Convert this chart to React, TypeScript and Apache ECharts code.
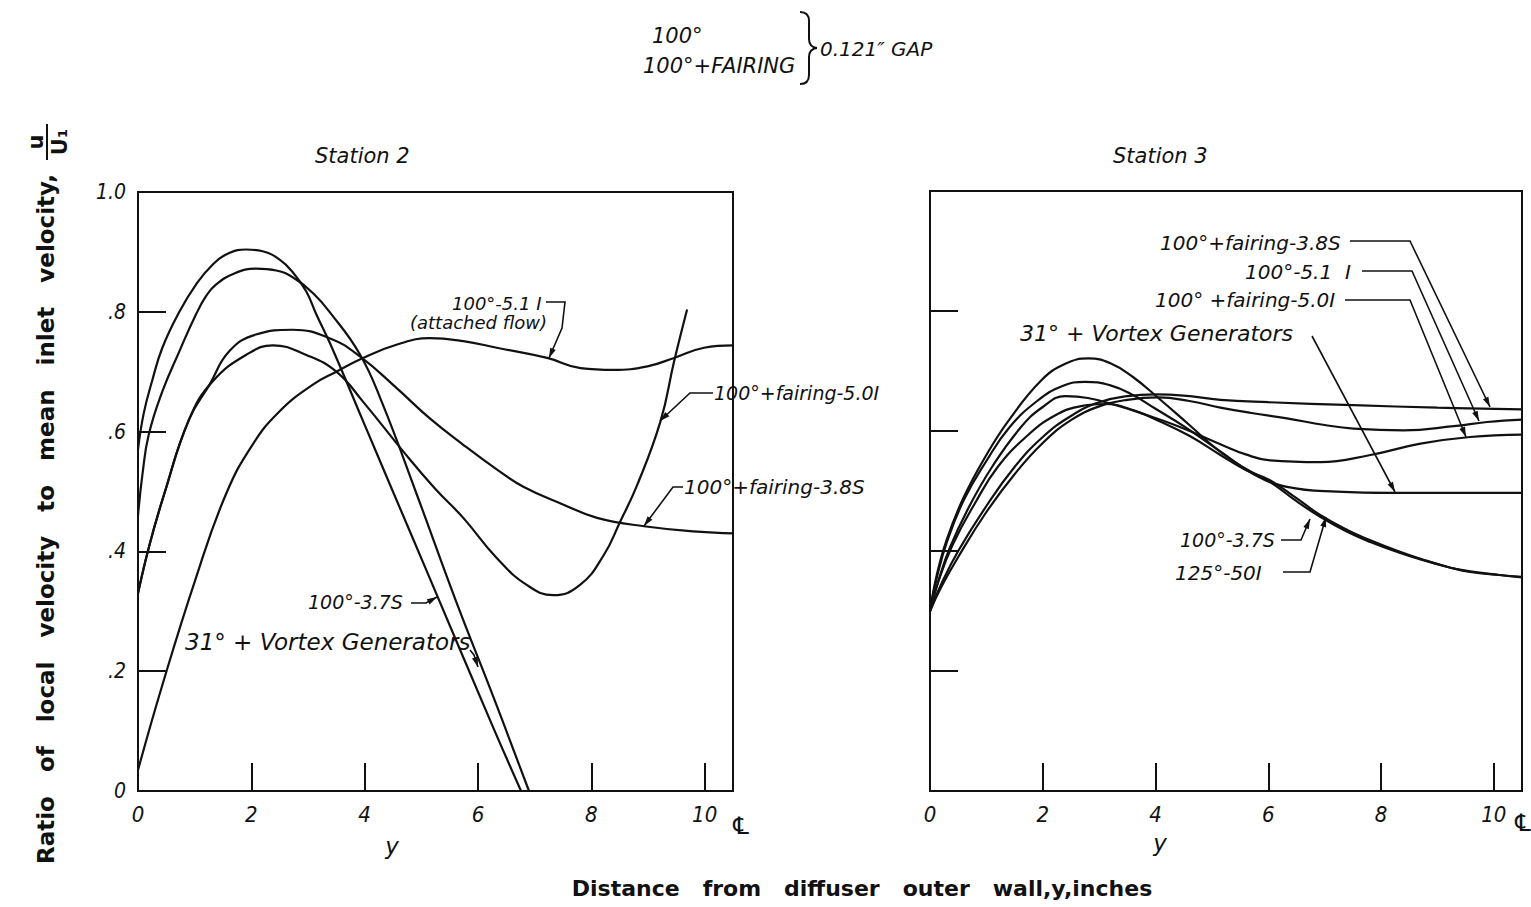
import React, { useEffect, useRef } from 'react';
import * as echarts from 'echarts';

// ---------- Tick values ----------
const X_MIN = 0;
const X_MAX = 10.5;
const X_STEP = 2;
const Y_MIN = 0;
const Y_MAX = 1.0;
const Y_STEP = 0.2;

// ---------- Station 2 series (y inches, u/U1) ----------
const s2_100_37S: number[][] = [[0,0.57],[0.1,0.63],[0.25,0.685],[0.43,0.74],[0.73,0.8],[1.02,0.845],[1.32,0.879],[1.61,0.898],[1.91,0.904],[2.2,0.901],[2.5,0.887],[2.73,0.866],[2.97,0.834],[3.15,0.795],[3.4,0.745],[3.97,0.618],[4.44,0.513],[5.15,0.355],[6.25,0.11],[6.76,0]];
const s2_31VG: number[][] = [[0,0.46],[0.08,0.53],[0.19,0.595],[0.43,0.667],[0.73,0.734],[1.02,0.795],[1.2,0.826],[1.37,0.845],[1.7,0.864],[2.08,0.872],[2.44,0.869],[2.79,0.854],[3.1,0.83],[3.38,0.8],[3.91,0.73],[4.3,0.65],[4.92,0.495],[5.6,0.32],[6.3,0.15],[6.9,0]];
const s2_fair50I: number[][] = [[0,0.33],[0.2,0.41],[0.46,0.495],[0.9,0.62],[1.32,0.684],[1.96,0.731],[2.38,0.744],[2.97,0.728],[3.5,0.7],[3.97,0.65],[4.68,0.567],[5.24,0.505],[5.74,0.456],[6.33,0.389],[6.86,0.344],[7.33,0.327],[7.8,0.344],[8.22,0.394],[8.51,0.45],[8.81,0.511],[9.22,0.617],[9.46,0.717],[9.69,0.804]];
const s2_fair38S: number[][] = [[0,0.33],[0.2,0.41],[0.46,0.495],[0.9,0.62],[1.26,0.678],[1.61,0.734],[2.08,0.762],[2.73,0.77],[3.38,0.756],[3.91,0.726],[4.56,0.673],[5.15,0.622],[5.74,0.578],[6.33,0.537],[6.8,0.508],[7.51,0.478],[8.1,0.456],[8.93,0.442],[9.87,0.433],[10.5,0.43]];
const s2_100_51I: number[][] = [[0,0.035],[0.43,0.177],[1.02,0.355],[1.55,0.495],[2.02,0.578],[2.5,0.634],[3.08,0.678],[3.5,0.7],[3.97,0.723],[4.56,0.745],[5.15,0.756],[5.74,0.751],[6.33,0.74],[7.22,0.723],[7.81,0.706],[8.39,0.703],[8.99,0.709],[9.46,0.723],[9.99,0.74],[10.5,0.744]];

// ---------- Station 3 series ----------
const s3_100_37S: number[][] = [[0,0.3],[0.12,0.36],[0.3,0.42],[0.6,0.49],[1.0,0.56],[1.4,0.618],[1.98,0.685],[2.4,0.712],[2.81,0.721],[3.2,0.713],[3.6,0.69],[4.05,0.655],[4.6,0.61],[5.15,0.565],[5.6,0.537],[6.03,0.515],[6.5,0.483],[6.92,0.457],[7.4,0.432],[7.81,0.415],[8.3,0.398],[8.7,0.386],[9.2,0.373],[9.58,0.365],[10.1,0.36],[10.5,0.357]];
const s3_125_50I: number[][] = [[0,0.3],[0.15,0.35],[0.4,0.41],[0.8,0.48],[1.2,0.54],[1.7,0.59],[2.2,0.625],[2.7,0.642],[3.1,0.645],[3.6,0.635],[4.1,0.615],[4.6,0.592],[5.15,0.56],[5.6,0.535],[6.03,0.518],[6.5,0.488],[6.92,0.46],[7.4,0.435],[7.81,0.418],[8.3,0.4],[8.7,0.387],[9.2,0.373],[9.58,0.366],[10.1,0.36],[10.5,0.356]];
const s3_31VG: number[][] = [[0,0.3],[0.12,0.355],[0.3,0.415],[0.6,0.485],[1.0,0.55],[1.4,0.605],[1.9,0.65],[2.35,0.675],[2.75,0.682],[3.2,0.676],[3.6,0.66],[4.0,0.637],[4.5,0.608],[5.15,0.566],[5.74,0.528],[6.33,0.507],[7.22,0.499],[8.2,0.497],[10.5,0.497]];
const s3_fair50I: number[][] = [[0,0.3],[0.15,0.35],[0.35,0.405],[0.7,0.475],[1.1,0.54],[1.6,0.605],[2.0,0.64],[2.4,0.658],[2.8,0.655],[3.3,0.643],[3.8,0.628],[4.4,0.608],[5.15,0.578],[5.6,0.561],[6.03,0.551],[6.92,0.548],[7.81,0.56],[8.7,0.579],[9.58,0.59],[10.5,0.594]];
const s3_fair38S: number[][] = [[0,0.3],[0.2,0.345],[0.5,0.4],[1.0,0.475],[1.5,0.54],[2.0,0.59],[2.5,0.625],[3.0,0.648],[3.5,0.658],[4.0,0.661],[4.5,0.659],[5.15,0.652],[6.0,0.648],[7.51,0.643],[9.0,0.639],[10.5,0.636]];
const s3_100_51I: number[][] = [[0,0.3],[0.2,0.34],[0.5,0.39],[1.0,0.465],[1.5,0.528],[2.0,0.58],[2.5,0.618],[3.0,0.641],[3.5,0.652],[4.05,0.656],[4.6,0.65],[5.15,0.639],[5.7,0.63],[6.33,0.621],[7.0,0.61],[7.51,0.604],[8.4,0.601],[9.29,0.608],[9.88,0.615],[10.5,0.619]];

const INK = '#111';
const HAND = '"DejaVu Sans", sans-serif';
const TICKF = '"DejaVu Sans Condensed", "DejaVu Sans", sans-serif';
const BOLD = '"DejaVu Sans", sans-serif';

echarts.graphic.registerShape(
  'brace',
  echarts.graphic.extendPath('M0 0 Q9 0 9 9 L9 27 Q9 35 17 36 Q9 37 9 45 L9 63 Q9 72 0 72', {})
);

function txt(text: string, x: number, y: number, size: number, extra: any = {}) {
  return {
    type: 'text',
    x,
    y,
    silent: true,
    style: {
      text,
      fill: INK,
      fontStyle: extra.italic === false ? 'normal' : 'italic',
      fontWeight: extra.weight || 'normal',
      fontSize: size,
      fontFamily: extra.family || HAND,
      textAlign: extra.align || 'left',
      textVerticalAlign: 'middle',
    },
    rotation: extra.rotation || 0,
  };
}

function leader(pts: number[][]) {
  const n = pts.length;
  const [x1, y1] = pts[n - 2];
  const [x2, y2] = pts[n - 1];
  const ang = Math.atan2(y2 - y1, x2 - x1);
  const L = 10;
  const W = 3;
  const bx = x2 - L * Math.cos(ang);
  const by = y2 - L * Math.sin(ang);
  const px = -Math.sin(ang) * W;
  const py = Math.cos(ang) * W;
  return [
    { type: 'polyline', silent: true, shape: { points: pts }, style: { stroke: INK, lineWidth: 1.6, fill: null } },
    { type: 'polygon', silent: true, shape: { points: [[x2, y2], [bx + px, by + py], [bx - px, by - py]] }, style: { fill: INK } },
  ];
}

function lineSeries(name: string, data: number[][], idx: number) {
  return {
    name,
    type: 'line',
    xAxisIndex: idx,
    yAxisIndex: idx,
    data,
    showSymbol: false,
    symbol: 'none',
    smooth: 0.45,
    clip: true,
    lineStyle: { color: INK, width: 2.2 },
    silent: true,
  };
}

const xFmt = (v: number) => (Math.abs(v % X_STEP) < 1e-6 ? String(v) : '');
const yFmt = (v: number) => {
  if (Math.abs(v - 1) < 1e-6) return '1.0';
  if (Math.abs(v) < 1e-6) return '0';
  return '.' + Math.round(v * 10);
};

function xAxis(gridIndex: number) {
  return {
    gridIndex,
    type: 'value',
    min: X_MIN,
    max: X_MAX,
    interval: X_STEP,
    axisLine: { show: true, lineStyle: { color: INK, width: 2 } },
    axisTick: { show: true, inside: true, length: 28, lineStyle: { color: INK, width: 2 } },
    axisLabel: { formatter: xFmt, color: INK, fontSize: 22, fontStyle: 'italic', fontFamily: TICKF, margin: 12, showMaxLabel: false },
    splitLine: { show: false },
  };
}

function yAxis(gridIndex: number, labels: boolean) {
  return {
    gridIndex,
    type: 'value',
    min: Y_MIN,
    max: Y_MAX,
    interval: Y_STEP,
    axisLine: { show: true, lineStyle: { color: INK, width: 2 } },
    axisTick: { show: true, inside: true, length: 28, lineStyle: { color: INK, width: 2 } },
    axisLabel: { show: labels, formatter: yFmt, color: INK, fontSize: 21, fontStyle: 'italic', fontFamily: TICKF, margin: 12 },
    splitLine: { show: false },
  };
}

export default function App() {
  const ref = useRef<HTMLDivElement>(null);
  useEffect(() => {
    if (!ref.current) return;
    const chart = echarts.init(ref.current, undefined, { renderer: 'svg' });
    const bold = { italic: false, weight: 'bold', family: BOLD, align: 'center' };
    const graphic: any[] = [
      // header legend note
      txt('100°', 652, 36, 21),
      txt('100°+FAIRING', 643, 66, 21),
      { type: 'brace', x: 800, y: 12, silent: true, style: { stroke: INK, fill: 'none', lineWidth: 2 } },
      txt('0.121″ GAP', 820, 49, 20),
      // station titles
      txt('Station 2', 315, 156, 21),
      txt('Station 3', 1113, 156, 21),
      // axis titles
      txt('Ratio   of   local   velocity   to   mean   inlet   velocity,', 46, 519, 23, { ...bold, rotation: Math.PI / 2 }),
      txt('u', 36, 142, 21, { ...bold, rotation: Math.PI / 2 }),
      { type: 'line', silent: true, shape: { x1: 47, y1: 124, x2: 47, y2: 160 }, style: { stroke: INK, lineWidth: 2 } },
      txt('U₁', 60, 142, 21, { ...bold, rotation: Math.PI / 2 }),
      txt('Distance   from   diffuser   outer   wall,y,inches', 862, 888, 22, bold),
      txt('y', 392, 846, 23, { align: 'center' }),
      txt('y', 1160, 843, 23, { align: 'center' }),
      txt('℄', 741, 826, 24, { align: 'center', italic: false }),
      txt('℄', 1523, 823, 24, { align: 'center', italic: false }),
      // Station 2 annotations
      txt('100°-5.1 I', 452, 303, 18),
      txt('(attached flow)', 410, 322, 18),
      ...leader([[546, 302], [565, 302], [562, 328], [549, 358]]),
      txt('100°+fairing-5.0I', 714, 393, 19),
      ...leader([[713, 393], [690, 393], [660, 421]]),
      txt('100°+fairing-3.8S', 684, 487, 20),
      ...leader([[683, 487], [673, 487], [644, 526]]),
      txt('100°-3.7S', 308, 602, 19),
      ...leader([[411, 603], [426, 603], [437, 597]]),
      txt('31° + Vortex Generators', 185, 642, 23),
      ...leader([[470, 650], [474, 655], [478, 667]]),
      // Station 3 annotations
      txt('100°+fairing-3.8S', 1160, 243, 20),
      ...leader([[1350, 241], [1410, 241], [1490, 407]]),
      txt('100°-5.1  I', 1245, 272, 20),
      ...leader([[1362, 271], [1412, 271], [1479, 421]]),
      txt('100° +fairing-5.0I', 1155, 300, 20),
      ...leader([[1345, 300], [1410, 300], [1466, 437]]),
      txt('31° + Vortex Generators', 1020, 333, 22),
      ...leader([[1312, 336], [1395, 492]]),
      txt('100°-3.7S', 1180, 540, 19),
      ...leader([[1281, 540], [1301, 540], [1310, 519]]),
      txt('125°-50I', 1175, 573, 20),
      ...leader([[1283, 572], [1310, 572], [1326, 517]]),
    ];

    chart.setOption({
      animation: false,
      backgroundColor: '#fff',
      grid: [
        { left: 138, top: 192, width: 595, height: 599, show: true, borderColor: INK, borderWidth: 2, containLabel: false },
        { left: 930, top: 191, width: 592, height: 600, show: true, borderColor: INK, borderWidth: 2, containLabel: false },
      ],
      xAxis: [xAxis(0), xAxis(1)],
      yAxis: [yAxis(0, true), yAxis(1, false)],
      series: [
        lineSeries('Station 2: 100°-3.7S', s2_100_37S, 0),
        lineSeries('Station 2: 31° + Vortex Generators', s2_31VG, 0),
        lineSeries('Station 2: 100°+fairing-5.0I', s2_fair50I, 0),
        lineSeries('Station 2: 100°+fairing-3.8S', s2_fair38S, 0),
        lineSeries('Station 2: 100°-5.1I (attached flow)', s2_100_51I, 0),
        lineSeries('Station 3: 100°-3.7S', s3_100_37S, 1),
        lineSeries('Station 3: 125°-50I', s3_125_50I, 1),
        lineSeries('Station 3: 31° + Vortex Generators', s3_31VG, 1),
        lineSeries('Station 3: 100°+fairing-5.0I', s3_fair50I, 1),
        lineSeries('Station 3: 100°+fairing-3.8S', s3_fair38S, 1),
        lineSeries('Station 3: 100°-5.1I', s3_100_51I, 1),
      ],
      graphic,
    });
    return () => chart.dispose();
  }, []);

  return (
    <div
      ref={ref}
      style={{ position: 'fixed', left: 0, top: 0, width: 1531, height: 907, background: '#fff' }}
    />
  );
}
